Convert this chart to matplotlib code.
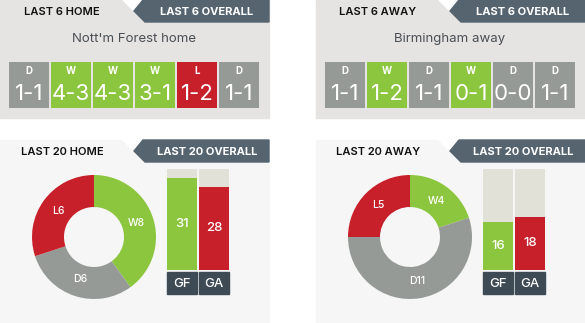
import matplotlib
matplotlib.use("Agg")
import numpy as np
import matplotlib.pyplot as plt
from matplotlib.patches import Rectangle, Polygon

plt.rcParams['font.family'] = ['Inter', 'DejaVu Sans']

# ====================== Data ======================
home_team = "Nott'm Forest home"
away_team = "Birmingham away"

home_form = ["D", "W", "W", "W", "L", "D"]
home_scores = ["1-1", "4-3", "4-3", "3-1", "1-2", "1-1"]
away_form = ["D", "W", "D", "W", "D", "D"]
away_scores = ["1-1", "1-2", "1-1", "0-1", "0-0", "1-1"]

home_wdl = [8, 6, 6]      # W, D, L (last 20 home)
away_wdl = [4, 11, 5]     # W, D, L (last 20 away)
wdl_names = ["W", "D", "L"]

home_goals = [31, 28]     # GF, GA
away_goals = [16, 18]
goal_names = ["GF", "GA"]

# ====================== Style ======================
GREEN = "#8cc63f"
RED = "#c8202a"
GREY = "#959a97"
TAB = "#55646f"
LABEL_BOX = "#3e4b54"
TOP_BG = "#e6e4e2"
BOT_BG = "#f6f6f6"
BEIGE = "#e2e1d7"
TEXT = "#4a4f56"
result_colour = {"W": GREEN, "D": GREY, "L": RED}
goal_colour = [GREEN, RED]

W, H = 585, 323
fig = plt.figure(figsize=(W / 100, H / 100), dpi=100)
fig.patch.set_facecolor("white")

bg = fig.add_axes([0, 0, 1, 1])
bg.set_xlim(0, W)
bg.set_ylim(H, 0)
bg.axis("off")


def px_axes(x0, y0, w, h):
    # axes placed with pixel coordinates (top-left origin)
    return fig.add_axes([x0 / W, 1 - (y0 + h) / H, w / W, h / H])


def panel(x0, y0, w, h, colour, left_tab, right_tab):
    bg.add_patch(Rectangle((x0, y0), w, h, color=colour, zorder=0))
    # white notch between the tabs
    bg.add_patch(Polygon([(x0 + 123, y0), (x0 + 143, y0), (x0 + 134, y0 + 11)],
                         color="white", zorder=1))
    bg.add_patch(Polygon([(x0 + 143, y0), (x0 + w, y0), (x0 + w, y0 + 22),
                          (x0 + 145, y0 + 22), (x0 + 134, y0 + 11)],
                         color=TAB, zorder=1))
    bg.text(x0 + 62, y0 + 12, left_tab, ha="center", va="center",
            fontsize=8, fontweight="semibold", color="#111111", zorder=2)
    bg.text(x0 + 207, y0 + 12, right_tab, ha="center", va="center",
            fontsize=8, fontweight="bold", color="white", zorder=2)


def form_row(x0, title, form, scores):
    bg.text(x0 + 134, 39, title, ha="center", va="center",
            fontsize=9.5, color=TEXT, zorder=2)
    ax = px_axes(x0 + 8, 62, 252, 46)
    ax.bar(range(len(form)), [1] * len(form), width=40 / 42,
           color=[result_colour[r] for r in form])
    ax.set_xlim(-0.5, len(form) - 0.5)
    ax.set_ylim(0, 1)
    ax.axis("off")
    for i, (r, s) in enumerate(zip(form, scores)):
        ax.text(i, 0.8, r, ha="center", va="center", fontsize=7,
                fontweight="bold", color="white")
        ax.text(i, 0.3, s, ha="center", va="center", fontsize=16,
                color="white")


def donut(cx, cy, values):
    r = 62
    ax = px_axes(cx - r, cy - r, 2 * r, 2 * r)
    wedges, _ = ax.pie(values, colors=[GREEN, GREY, RED], startangle=90,
                       counterclock=False, radius=1,
                       wedgeprops=dict(width=32 / 62, linewidth=0))
    ax.set_xlim(-1, 1)
    ax.set_ylim(-1, 1)
    for wdg, name, v in zip(wedges, wdl_names, values):
        mid = np.deg2rad((wdg.theta1 + wdg.theta2) / 2)
        rr = 0.72
        ax.text(rr * np.cos(mid), rr * np.sin(mid), f"{name}{v}",
                ha="center", va="center", fontsize=7.5, fontweight="medium",
                color="white")


def goal_bars(x0, goals):
    ax = px_axes(x0 - 1, 169, 64, 101)
    top = 34
    ax.bar(range(2), [top] * 2, width=30 / 32, color=BEIGE)
    ax.bar(range(2), goals, width=30 / 32, color=goal_colour)
    ax.set_xlim(-0.5, 1.5)
    ax.set_ylim(0, top)
    ax.axis("off")
    for i, g in enumerate(goals):
        ax.text(i, g / 2, str(g), ha="center", va="center", fontsize=9.5,
                fontweight="medium", color="white")
    for i, n in enumerate(goal_names):
        bx = x0 + 32 * i
        bg.add_patch(Rectangle((bx, 272), 30, 22, color=LABEL_BOX, zorder=1))
        bg.text(bx + 15, 284, n, ha="center", va="center", fontsize=9.5,
                fontweight="medium", color="white", zorder=2)


# ====================== Top panels ======================
panel(0, 0, 269, 118, TOP_BG, "LAST 6 HOME", "LAST 6 OVERALL")
panel(316, 0, 269, 118, TOP_BG, "LAST 6 AWAY", "LAST 6 OVERALL")
form_row(0, home_team, home_form, home_scores)
form_row(316, away_team, away_form, away_scores)

# ====================== Bottom panels ======================
panel(0, 140, 269, 183, BOT_BG, "LAST 20 HOME", "LAST 20 OVERALL")
panel(316, 140, 269, 183, BOT_BG, "LAST 20 AWAY", "LAST 20 OVERALL")
donut(94, 237, home_wdl)
donut(410, 237, away_wdl)
goal_bars(167, home_goals)
goal_bars(483, away_goals)

fig.savefig("out.png", dpi=100)
